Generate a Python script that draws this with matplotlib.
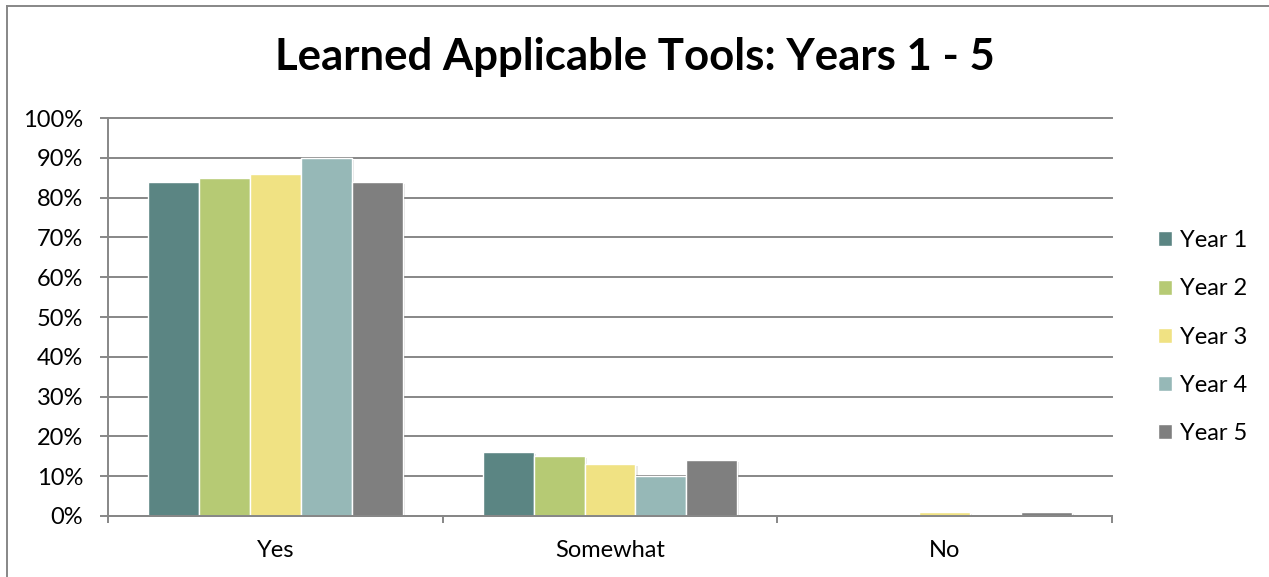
import matplotlib
matplotlib.use("Agg")
import matplotlib.pyplot as plt
import matplotlib.patheffects as pe
from matplotlib.lines import Line2D
from matplotlib.patches import Patch
import numpy as np

# survey answers per year, share of respondents
categories = ["Yes", "Somewhat", "No"]
series_names = ["Year 1", "Year 2", "Year 3", "Year 4", "Year 5"]
year1 = [0.84, 0.16, 0.00]
year2 = [0.85, 0.15, 0.00]
year3 = [0.86, 0.13, 0.01]
year4 = [0.90, 0.10, 0.00]
year5 = [0.84, 0.14, 0.01]
colors = ["#5B8583", "#B6CA74", "#F0E283", "#96B8B7", "#7F7F7F"]

plt.rcParams["font.family"] = ["Lato", "DejaVu Sans"]
grey = "#878787"

W, H = 1269, 577
fig = plt.figure(figsize=(W / 100, H / 100), dpi=100)
ax = fig.add_axes([108 / W, (H - 516) / H, (1112 - 108) / W, (516 - 118) / H])

x = np.arange(len(categories))
bw = 0.152
all_series = [year1, year2, year3, year4, year5]
shadow = [pe.SimplePatchShadow(offset=(1.5, -1.5), alpha=0.12), pe.Normal()]
for i, (vals, c, name) in enumerate(zip(all_series, colors, series_names)):
    bars = ax.bar(x + (i - 2) * bw, vals, bw, color=c, edgecolor="white",
                  linewidth=1.0, label=name, zorder=3)
    for b, v in zip(bars, vals):
        if v > 0:
            b.set_path_effects(shadow)
        else:
            b.set_visible(False)

ax.set_xlim(-0.5, 2.5)
ax.set_ylim(0, 1.0)
ax.set_yticks(np.arange(0, 1.01, 0.1))
ax.set_yticklabels([f"{v}%" for v in range(0, 101, 10)])
ax.yaxis.grid(True, color=grey, linewidth=1.4, zorder=0)
for gl in ax.get_ygridlines():
    gl.set_clip_on(False)
ax.set_axisbelow(True)

ax.set_xticks([-0.5, 0.5, 1.5, 2.5])
ax.set_xticklabels([])
ax.set_xticks(x, minor=True)
ax.set_xticklabels(categories, minor=True)
ax.tick_params(axis="x", which="major", direction="out", length=5, width=1.4,
               color=grey)
ax.tick_params(axis="x", which="minor", length=0, pad=17, labelsize=17)
ax.tick_params(axis="y", direction="out", length=6, width=1.4, color=grey,
               labelsize=17, pad=12)

for s in ["top", "right"]:
    ax.spines[s].set_visible(False)
for s in ["left", "bottom"]:
    ax.spines[s].set_color(grey)
    ax.spines[s].set_linewidth(1.4)
ax.spines["bottom"].set_zorder(4)

fig.text(0.5, (H - 57) / H, "Learned Applicable Tools: Years 1 - 5",
         ha="center", va="center", fontsize=31.5, fontweight="bold")

handles = [Patch(facecolor=c, edgecolor="white") for c in colors]
fig.legend(handles, series_names, loc="center left",
           bbox_to_anchor=(1137 / W, (H - 337) / H), frameon=False,
           fontsize=17, handlelength=0.6, handleheight=0.6,
           handletextpad=0.3, labelspacing=1.15)

# chart area frame (left and top edges)
fig.add_artist(Line2D([7 / W, 7 / W], [0, (H - 6) / H], color=grey, linewidth=1.4))
fig.add_artist(Line2D([7 / W, 1], [(H - 6) / H, (H - 6) / H], color=grey, linewidth=1.4))

fig.savefig("out.png", dpi=100, facecolor="white")
